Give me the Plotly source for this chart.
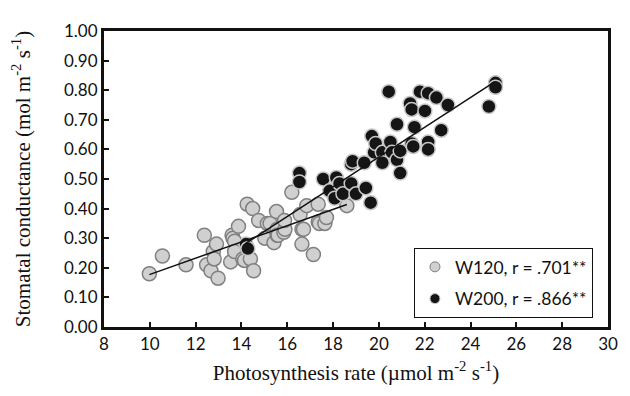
import plotly.graph_objects as go

# W120 group (photosynthesis rate, stomatal conductance)
w120_x = [9.98, 10.55, 11.58, 12.38, 12.48, 12.67, 12.77, 12.81, 12.91, 12.98,
          13.53, 13.59, 13.63, 13.70, 13.70, 13.87, 14.06, 14.13, 14.25, 14.39,
          14.49, 14.53, 14.75, 15.02, 15.13, 15.25, 15.42, 15.53, 15.56, 15.56,
          15.60, 15.85, 15.90, 15.88, 16.20, 16.56, 16.64, 16.64, 16.71, 16.85,
          17.14, 17.35, 17.35, 17.40, 17.64, 17.71, 18.60]
w120_y = [0.18, 0.24, 0.21, 0.31, 0.21, 0.19, 0.255, 0.23, 0.28, 0.165,
          0.22, 0.31, 0.30, 0.29, 0.255, 0.34, 0.23, 0.225, 0.415, 0.23,
          0.40, 0.19, 0.36, 0.30, 0.35, 0.35, 0.285, 0.39, 0.33, 0.31,
          0.31, 0.32, 0.33, 0.36, 0.455, 0.38, 0.33, 0.28, 0.33, 0.41,
          0.245, 0.415, 0.355, 0.35, 0.35, 0.37, 0.41]

# W200 group
w200_x = [14.20, 14.28, 16.53, 16.53, 17.57, 17.85, 18.07, 18.14, 18.28, 18.43,
          18.79, 18.79, 18.85, 19.00, 19.36, 19.43, 19.64, 19.69, 19.79, 19.86,
          20.15, 20.15, 20.43, 20.50, 20.57, 20.79, 20.79, 20.93, 20.93, 21.36,
          21.43, 21.43, 21.50, 21.55, 21.79, 22.01, 22.15, 22.15, 22.15, 22.51,
          22.72, 23.01, 24.80, 25.09, 25.09]
w200_y = [0.28, 0.265, 0.52, 0.49, 0.50, 0.46, 0.435, 0.505, 0.485, 0.45,
          0.485, 0.55, 0.56, 0.45, 0.555, 0.47, 0.42, 0.645, 0.59, 0.62,
          0.59, 0.555, 0.795, 0.625, 0.59, 0.685, 0.565, 0.595, 0.52, 0.755,
          0.735, 0.62, 0.61, 0.675, 0.795, 0.73, 0.79, 0.625, 0.60, 0.775,
          0.665, 0.75, 0.745, 0.825, 0.81]

# regression line end points
w120_fit_x = [9.98, 18.60]
w120_fit_y = [0.177, 0.414]
w200_fit_x = [14.20, 25.05]
w200_fit_y = [0.283, 0.828]

legend_labels = ["W120, r = .701**", "W200, r = .866**"]

fig = go.Figure()
fig.add_trace(go.Scatter(x=w120_x, y=w120_y, mode="markers", showlegend=False,
                         marker=dict(size=14, color="#d0d0d0",
                                     line=dict(color="#808080", width=1.5))))
fig.add_trace(go.Scatter(x=w200_x, y=w200_y, mode="markers", showlegend=False,
                         marker=dict(size=14, color="#151515",
                                     line=dict(color="#c8c8c8", width=1.5))))
fig.add_trace(go.Scatter(x=w120_fit_x, y=w120_fit_y, mode="lines", showlegend=False,
                         line=dict(color="#111111", width=1.5)))
fig.add_trace(go.Scatter(x=w200_fit_x, y=w200_fit_y, mode="lines", showlegend=False,
                         line=dict(color="#111111", width=1.5)))
# legend entries
fig.add_trace(go.Scatter(x=[None], y=[None], mode="markers", name=legend_labels[0],
                         legendgroup="a",
                         marker=dict(size=10, color="#d0d0d0",
                                     line=dict(color="#808080", width=1))))
fig.add_trace(go.Scatter(x=[None], y=[None], mode="markers", name=legend_labels[1],
                         legendgroup="b",
                         marker=dict(size=10, color="#151515",
                                     line=dict(color="#c8c8c8", width=1))))

axis_common = dict(showline=True, linecolor="#111111", linewidth=3, mirror=True,
                   ticks="inside", ticklen=5, tickwidth=2, tickcolor="#111111",
                   showgrid=False, zeroline=False,
                   tickfont=dict(family="Lato", size=17, color="#111111"))

# page body adds an 8px offset, so the figure is 8px smaller than the window
fig.update_layout(
    width=622, height=388,
    margin=dict(l=96, r=14, t=12, b=69),
    paper_bgcolor="white", plot_bgcolor="white",
    xaxis=dict(range=[8, 30], dtick=2, tick0=8,
               title=dict(text="Photosynthesis rate (µmol m<sup>-2</sup> s<sup>-1</sup>)",
                          font=dict(family="Liberation Serif", size=21, color="#111111"),
                          standoff=12),
               **axis_common),
    yaxis=dict(range=[0, 1], dtick=0.1, tick0=0, tickformat=".2f",
               title=dict(text="Stomatal conductance (mol m<sup>-2</sup> s<sup>-1</sup>)",
                          font=dict(family="Liberation Serif", size=21, color="#111111"),
                          standoff=28),
               **axis_common),
    legend=dict(x=0.615, y=0.267, xanchor="left", yanchor="top",
                bgcolor="white", bordercolor="#111111", borderwidth=1,
                font=dict(family="Lato", size=17.5, color="#111111"),
                traceorder="grouped", tracegroupgap=6),
)

fig.write_html("out.html")
